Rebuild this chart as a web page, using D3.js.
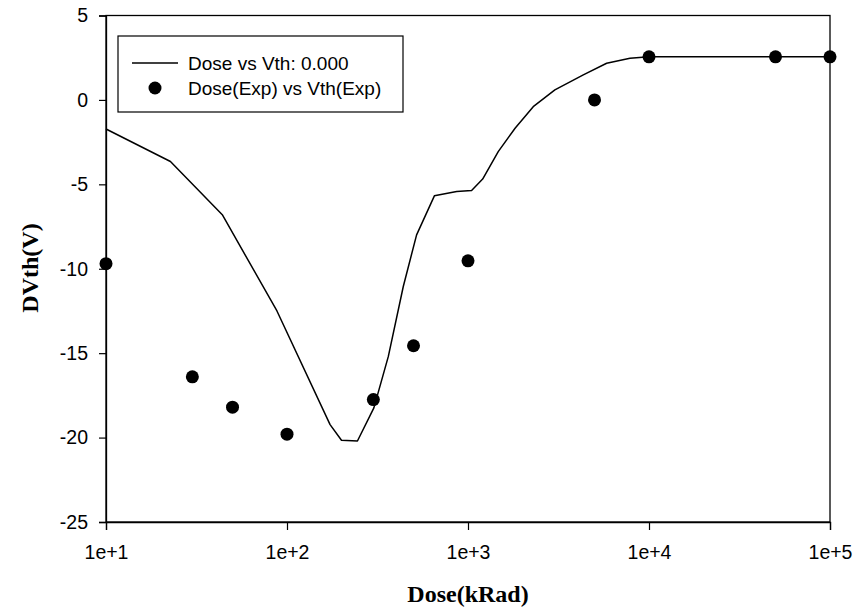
<!DOCTYPE html>
<html>
<head>
<meta charset="utf-8">
<script src="https://cdn.jsdelivr.net/npm/d3@7"></script>
<style>
  html, body { margin: 0; padding: 0; background: #fff; }
  svg { display: block; }
</style>
</head>
<body>
<svg id="chart" width="854" height="607"></svg>
<script>
// Simulated threshold-voltage shift versus total dose
const curveDose = [10, 22.7, 43.9, 88, 173, 200, 245, 302, 363, 439, 520, 652, 866, 1047, 1205, 1469, 1820, 2293, 3020, 4335, 5835, 7850, 10000, 100000];
const curveVth  = [-1.72, -3.65, -6.8, -12.5, -19.23, -20.16, -20.2, -18.24, -15.19, -11.05, -7.99, -5.68, -5.42, -5.37, -4.69, -3.06, -1.68, -0.4, 0.59, 1.48, 2.17, 2.47, 2.55, 2.55];

// Measured points
const expDose = [10, 30, 50, 100, 300, 500, 1000, 5000, 10000, 50000, 100000];
const expVth  = [-9.7, -16.4, -18.2, -19.8, -17.75, -14.56, -9.53, 0, 2.55, 2.55, 2.55];

const xTicks = [1e1, 1e2, 1e3, 1e4, 1e5];
const xTickLabels = ["1e+1", "1e+2", "1e+3", "1e+4", "1e+5"];
const yTicks = [-25, -20, -15, -10, -5, 0, 5];

const legendLabels = ["Dose vs Vth: 0.000", "Dose(Exp) vs Vth(Exp)"];

const svg = d3.select("#chart");
const margin = { left: 106, right: 24, top: 15.5, bottom: 85 };
const W = 854, H = 607;

const x = d3.scaleLog().domain([1e1, 1e5]).range([margin.left, W - margin.right]);
const y = d3.scaleLinear().domain([-25, 5]).range([H - margin.bottom, margin.top]);

const sans = "'Liberation Sans', Arial, sans-serif";
const serif = "'Liberation Serif', 'Times New Roman', serif";

// Frame
svg.append("rect")
  .attr("x", x.range()[0]).attr("y", y.range()[1])
  .attr("width", x.range()[1] - x.range()[0])
  .attr("height", y.range()[0] - y.range()[1])
  .attr("fill", "none").attr("stroke", "#000").attr("stroke-width", 1.3);

// Axes
const xAxis = d3.axisBottom(x).tickValues(xTicks)
  .tickFormat((d, i) => xTickLabels[i]).tickSizeOuter(0).tickSize(8).tickPadding(15);
const gx = svg.append("g").attr("transform", `translate(0,${y.range()[0]})`).call(xAxis);

const yAxis = d3.axisLeft(y).tickValues(yTicks).tickFormat(d3.format("d"))
  .tickSizeOuter(0).tickSize(7).tickPadding(11);
const gy = svg.append("g").attr("transform", `translate(${x.range()[0]},0)`).call(yAxis);

[gx, gy].forEach(g => {
  g.select(".domain").attr("stroke", "#000").attr("stroke-width", 1.3);
  g.selectAll(".tick line").attr("stroke", "#000").attr("stroke-width", 1.2);
  g.selectAll(".tick text").attr("fill", "#000")
    .style("font-family", sans).style("font-size", "19.5px");
});
gy.selectAll(".tick text").text(d => d < 0 ? "-" + Math.abs(d) : d);

// Axis titles
svg.append("text")
  .attr("x", (x.range()[0] + x.range()[1]) / 2).attr("y", 602)
  .attr("text-anchor", "middle")
  .style("font-family", serif).style("font-weight", "bold").style("font-size", "24px")
  .text("Dose(kRad)");

svg.append("text")
  .attr("transform", `translate(38,268) rotate(-90)`)
  .attr("text-anchor", "middle")
  .style("font-family", serif).style("font-weight", "bold").style("font-size", "24px")
  .text("DVth(V)");

// Simulated curve
const line = d3.line().x(d => x(d[0])).y(d => y(d[1]));
svg.append("path")
  .datum(d3.zip(curveDose, curveVth))
  .attr("d", line)
  .attr("fill", "none").attr("stroke", "#000").attr("stroke-width", 1.5)
  .attr("stroke-linejoin", "round");

// Measured points
svg.append("g").selectAll("circle")
  .data(d3.zip(expDose, expVth))
  .join("circle")
  .attr("cx", d => x(d[0])).attr("cy", d => y(d[1]))
  .attr("r", 6.5).attr("fill", "#000");

// Legend
const lg = svg.append("g");
lg.append("rect")
  .attr("x", 118).attr("y", 36).attr("width", 285).attr("height", 76)
  .attr("fill", "#fff").attr("stroke", "#000").attr("stroke-width", 1.2);
lg.append("line")
  .attr("x1", 132).attr("x2", 178).attr("y1", 63).attr("y2", 63)
  .attr("stroke", "#000").attr("stroke-width", 1.5);
lg.append("circle").attr("cx", 155).attr("cy", 88).attr("r", 6.5).attr("fill", "#000");
lg.selectAll("text.lbl")
  .data(legendLabels)
  .join("text")
  .attr("class", "lbl")
  .attr("x", 188).attr("y", (d, i) => 69.5 + i * 25.5)
  .style("font-family", sans).style("font-size", "19px")
  .text(d => d);
</script>
</body>
</html>
